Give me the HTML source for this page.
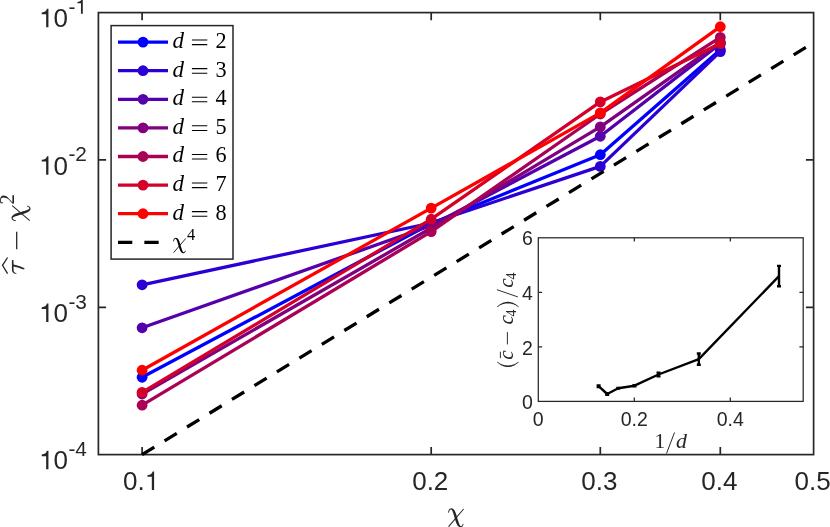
<!DOCTYPE html>
<html><head><meta charset="utf-8"><title>plot</title>
<style>
html,body{margin:0;padding:0;background:#fff;}
body{width:830px;height:527px;overflow:hidden;}
svg{display:block;will-change:transform;}
text{font-family:"Liberation Sans",sans-serif;fill:#262626;}
.s{font-family:"Liberation Serif",serif;}
.i{font-family:"Liberation Serif",serif;font-style:italic;}
.k{fill:#000;}
</style></head><body>
<svg width="830" height="527" viewBox="0 0 830 527">
<rect width="830" height="527" fill="#fff"/>
<g stroke="#262626" stroke-width="1.7" fill="none">
<rect x="98.4" y="12.6" width="715.2" height="442.0"/>
<path d="M142.1 454.6v-7.7M142.1 12.6v7.7"/>
<path d="M431.2 454.6v-7.7M431.2 12.6v7.7"/>
<path d="M600.3 454.6v-7.7M600.3 12.6v7.7"/>
<path d="M720.3 454.6v-7.7M720.3 12.6v7.7"/>
<path d="M98.4 159.9h7.7M813.6 159.9h-7.7"/>
<path d="M98.4 307.3h7.7M813.6 307.3h-7.7"/>
</g>
<g fill="none" stroke-linejoin="round" stroke-linecap="butt">
<polyline points="142.1,377.3 431.2,223.5 600.3,154.7 720.3,49.8" stroke="#0000ff" stroke-width="3.3"/>
<circle cx="142.1" cy="377.3" r="5.4" fill="#0000ff" stroke="none"/>
<circle cx="431.2" cy="223.5" r="5.4" fill="#0000ff" stroke="none"/>
<circle cx="600.3" cy="154.7" r="5.4" fill="#0000ff" stroke="none"/>
<circle cx="720.3" cy="49.8" r="5.4" fill="#0000ff" stroke="none"/>
<polyline points="142.1,284.8 431.2,223.0 600.3,166.4 720.3,51.6" stroke="#2a00d4" stroke-width="3.3"/>
<circle cx="142.1" cy="284.8" r="5.4" fill="#2a00d4" stroke="none"/>
<circle cx="431.2" cy="223.0" r="5.4" fill="#2a00d4" stroke="none"/>
<circle cx="600.3" cy="166.4" r="5.4" fill="#2a00d4" stroke="none"/>
<circle cx="720.3" cy="51.6" r="5.4" fill="#2a00d4" stroke="none"/>
<polyline points="142.1,327.8 431.2,225.5 600.3,136.3 720.3,43.6" stroke="#5500aa" stroke-width="3.3"/>
<circle cx="142.1" cy="327.8" r="5.4" fill="#5500aa" stroke="none"/>
<circle cx="431.2" cy="225.5" r="5.4" fill="#5500aa" stroke="none"/>
<circle cx="600.3" cy="136.3" r="5.4" fill="#5500aa" stroke="none"/>
<circle cx="720.3" cy="43.6" r="5.4" fill="#5500aa" stroke="none"/>
<polyline points="142.1,394.0 431.2,228.0 600.3,126.9 720.3,42.3" stroke="#800080" stroke-width="3.3"/>
<circle cx="142.1" cy="394.0" r="5.4" fill="#800080" stroke="none"/>
<circle cx="431.2" cy="228.0" r="5.4" fill="#800080" stroke="none"/>
<circle cx="600.3" cy="126.9" r="5.4" fill="#800080" stroke="none"/>
<circle cx="720.3" cy="42.3" r="5.4" fill="#800080" stroke="none"/>
<polyline points="142.1,405.2 431.2,231.6 600.3,114.0 720.3,37.4" stroke="#aa0055" stroke-width="3.3"/>
<circle cx="142.1" cy="405.2" r="5.4" fill="#aa0055" stroke="none"/>
<circle cx="431.2" cy="231.6" r="5.4" fill="#aa0055" stroke="none"/>
<circle cx="600.3" cy="114.0" r="5.4" fill="#aa0055" stroke="none"/>
<circle cx="720.3" cy="37.4" r="5.4" fill="#aa0055" stroke="none"/>
<polyline points="142.1,392.4 431.2,219.2 600.3,101.9 720.3,43.6" stroke="#d4002a" stroke-width="3.3"/>
<circle cx="142.1" cy="392.4" r="5.4" fill="#d4002a" stroke="none"/>
<circle cx="431.2" cy="219.2" r="5.4" fill="#d4002a" stroke="none"/>
<circle cx="600.3" cy="101.9" r="5.4" fill="#d4002a" stroke="none"/>
<circle cx="720.3" cy="43.6" r="5.4" fill="#d4002a" stroke="none"/>
<polyline points="142.1,370.2 431.2,208.1 600.3,112.9 720.3,26.7" stroke="#ff0000" stroke-width="3.3"/>
<circle cx="142.1" cy="370.2" r="5.4" fill="#ff0000" stroke="none"/>
<circle cx="431.2" cy="208.1" r="5.4" fill="#ff0000" stroke="none"/>
<circle cx="600.3" cy="112.9" r="5.4" fill="#ff0000" stroke="none"/>
<circle cx="720.3" cy="26.7" r="5.4" fill="#ff0000" stroke="none"/>
<line x1="142.1" y1="454.6" x2="813.4" y2="42.7" stroke="#000" stroke-width="3.3" stroke-dasharray="14.3 12.06"/>
</g>
<rect x="111.1" y="25.6" width="121.9" height="233.5" fill="#fff" stroke="#262626" stroke-width="1.5"/>
<line x1="118" y1="42.1" x2="168" y2="42.1" stroke="#0000ff" stroke-width="3.3"/><circle cx="143" cy="42.1" r="5.4" fill="#0000ff"/>
<text class="i k" x="172.50" y="47.90" font-size="23">d</text><path d="M191.9 40.00h15.4M191.9 44.60h15.4" stroke="#000" stroke-width="1.05"/><text class="s k" x="215.45" y="47.9" font-size="22.2">2</text>
<line x1="118" y1="70.7" x2="168" y2="70.7" stroke="#2a00d4" stroke-width="3.3"/><circle cx="143" cy="70.7" r="5.4" fill="#2a00d4"/>
<text class="i k" x="172.50" y="76.50" font-size="23">d</text><path d="M191.9 68.60h15.4M191.9 73.20h15.4" stroke="#000" stroke-width="1.05"/><text class="s k" x="215.45" y="76.5" font-size="22.2">3</text>
<line x1="118" y1="99.3" x2="168" y2="99.3" stroke="#5500aa" stroke-width="3.3"/><circle cx="143" cy="99.3" r="5.4" fill="#5500aa"/>
<text class="i k" x="172.50" y="105.10" font-size="23">d</text><path d="M191.9 97.20h15.4M191.9 101.80h15.4" stroke="#000" stroke-width="1.05"/><text class="s k" x="215.45" y="105.1" font-size="22.2">4</text>
<line x1="118" y1="127.9" x2="168" y2="127.9" stroke="#800080" stroke-width="3.3"/><circle cx="143" cy="127.9" r="5.4" fill="#800080"/>
<text class="i k" x="172.50" y="133.70" font-size="23">d</text><path d="M191.9 125.80h15.4M191.9 130.40h15.4" stroke="#000" stroke-width="1.05"/><text class="s k" x="215.45" y="133.7" font-size="22.2">5</text>
<line x1="118" y1="156.5" x2="168" y2="156.5" stroke="#aa0055" stroke-width="3.3"/><circle cx="143" cy="156.5" r="5.4" fill="#aa0055"/>
<text class="i k" x="172.50" y="162.30" font-size="23">d</text><path d="M191.9 154.40h15.4M191.9 159.00h15.4" stroke="#000" stroke-width="1.05"/><text class="s k" x="215.45" y="162.3" font-size="22.2">6</text>
<line x1="118" y1="185.1" x2="168" y2="185.1" stroke="#d4002a" stroke-width="3.3"/><circle cx="143" cy="185.1" r="5.4" fill="#d4002a"/>
<text class="i k" x="172.50" y="190.90" font-size="23">d</text><path d="M191.9 183.00h15.4M191.9 187.60h15.4" stroke="#000" stroke-width="1.05"/><text class="s k" x="215.45" y="190.9" font-size="22.2">7</text>
<line x1="118" y1="213.7" x2="168" y2="213.7" stroke="#ff0000" stroke-width="3.3"/><circle cx="143" cy="213.7" r="5.4" fill="#ff0000"/>
<text class="i k" x="172.50" y="219.50" font-size="23">d</text><path d="M191.9 211.60h15.4M191.9 216.20h15.4" stroke="#000" stroke-width="1.05"/><text class="s k" x="215.45" y="219.5" font-size="22.2">8</text>
<line x1="118" y1="242.3" x2="168" y2="242.3" stroke="#000" stroke-width="3.3" stroke-dasharray="14.3 12.06"/>
<path d="M173.16 241.18L173.20 241.03L173.25 240.81L173.31 240.55L173.38 240.25L173.47 239.94L173.56 239.63L173.68 239.33L173.83 239.07L173.99 238.85L174.17 238.64L174.37 238.45L174.59 238.27L174.82 238.12L175.06 237.98L175.31 237.88L175.58 237.82L175.86 237.80L176.13 237.83L176.40 237.89L176.67 237.99L176.93 238.11L177.18 238.26L177.41 238.43L177.64 238.62L177.85 238.82L178.05 239.04L178.24 239.28L178.43 239.54L178.61 239.83L178.79 240.16L178.97 240.52L179.15 240.93L179.34 241.41L179.53 241.95L179.72 242.53L179.91 243.14L180.10 243.76L180.28 244.37L180.46 244.97L180.64 245.53L180.81 246.08L180.99 246.66L181.16 247.23L181.33 247.78L181.50 248.32L181.66 248.82L181.80 249.28L181.94 249.68L182.08 250.03L182.20 250.35L182.31 250.63L182.42 250.88L182.52 251.10L182.62 251.30L182.72 251.48L182.82 251.64L182.92 251.79L183.01 251.91L183.10 252.02L183.20 252.11L183.29 252.19L183.39 252.25L183.49 252.30L183.58 252.33L183.67 252.33L183.77 252.32L183.88 252.28L184.01 252.22L184.13 252.13L184.26 252.03L184.38 251.92L184.49 251.81L184.58 251.69L184.69 251.52L184.79 251.32L184.89 251.11L184.97 250.89L185.05 250.70L185.12 250.52L185.18 250.40L185.79 250.65L185.74 250.77L185.68 250.93L185.61 251.14L185.52 251.37L185.43 251.61L185.32 251.85L185.21 252.07L185.08 252.27L184.94 252.45L184.79 252.60L184.63 252.75L184.46 252.89L184.28 253.01L184.08 253.12L183.87 253.21L183.64 253.26L183.41 253.28L183.18 253.28L182.94 253.26L182.70 253.20L182.45 253.12L182.21 253.00L181.97 252.85L181.74 252.68L181.52 252.48L181.31 252.27L181.11 252.04L180.91 251.78L180.71 251.49L180.51 251.18L180.32 250.82L180.13 250.43L179.93 249.99L179.74 249.50L179.55 248.97L179.36 248.42L179.17 247.85L178.99 247.28L178.81 246.72L178.63 246.16L178.45 245.58L178.27 244.97L178.09 244.34L177.92 243.72L177.76 243.13L177.60 242.56L177.45 242.06L177.31 241.63L177.18 241.25L177.07 240.92L176.96 240.64L176.86 240.40L176.77 240.19L176.68 240.00L176.59 239.81L176.48 239.64L176.37 239.47L176.26 239.30L176.14 239.16L176.03 239.03L175.92 238.92L175.82 238.84L175.72 238.78L175.64 238.75L175.53 238.75L175.40 238.78L175.24 238.85L175.08 238.95L174.91 239.07L174.75 239.21L174.61 239.37L174.49 239.51L174.38 239.68L174.28 239.90L174.18 240.17L174.10 240.45L174.02 240.72L173.95 240.98L173.89 241.21L173.84 241.38Z" fill="#000"/><line x1="173.60" y1="252.65" x2="185.81" y2="238.38" stroke="#000" stroke-width="0.84"/><text class="s k" x="187.08" y="239.80" font-size="16.4">4</text>
<path d="M46.15 27.30L48.43 27.30L48.43 8.87L46.95 8.87C46.51 10.66 45.21 12.22 41.73 12.53L41.73 14.22L46.15 14.22Z" fill="#262626"/><text x="53.56" y="27.3" font-size="26">0</text><text x="68.4" y="13.8" font-size="20.8">-</text><path d="M80.97 13.80L82.80 13.80L82.80 -0.95L81.61 -0.95C81.26 0.49 80.22 1.74 77.43 1.99L77.43 3.34L80.97 3.34Z" fill="#262626"/>
<path d="M46.15 174.63L48.43 174.63L48.43 156.20L46.95 156.20C46.51 157.99 45.21 159.55 41.73 159.87L41.73 161.56L46.15 161.56Z" fill="#262626"/><text x="53.56" y="174.6" font-size="26">0</text><text x="68.4" y="161.1" font-size="20.8">-2</text>
<path d="M46.15 321.97L48.43 321.97L48.43 303.53L46.95 303.53C46.51 305.33 45.21 306.89 41.73 307.20L41.73 308.89L46.15 308.89Z" fill="#262626"/><text x="53.56" y="322.0" font-size="26">0</text><text x="68.4" y="308.5" font-size="20.8">-3</text>
<path d="M46.15 469.30L48.43 469.30L48.43 450.87L46.95 450.87C46.51 452.66 45.21 454.22 41.73 454.53L41.73 456.22L46.15 456.22Z" fill="#262626"/><text x="53.56" y="469.3" font-size="26">0</text><text x="68.4" y="455.8" font-size="20.8">-4</text>
<text x="123.1" y="489.9" font-size="26">0.</text><path d="M151.83 489.90L154.11 489.90L154.11 471.47L152.63 471.47C152.19 473.26 150.89 474.82 147.41 475.13L147.41 476.82L151.83 476.82Z" fill="#262626"/>
<text x="412.2" y="489.9" font-size="26">0.2</text>
<text x="581.3" y="489.9" font-size="26">0.3</text>
<text x="701.3" y="489.9" font-size="26">0.4</text>
<text x="794.5" y="489.9" font-size="26">0.5</text>
<path d="M448.05 512.44L448.10 512.25L448.16 511.99L448.23 511.66L448.32 511.29L448.42 510.91L448.54 510.53L448.69 510.16L448.86 509.84L449.07 509.56L449.29 509.31L449.54 509.07L449.80 508.86L450.08 508.67L450.38 508.50L450.69 508.38L451.02 508.30L451.36 508.28L451.70 508.31L452.04 508.39L452.36 508.51L452.68 508.66L452.99 508.84L453.28 509.05L453.56 509.28L453.81 509.53L454.06 509.80L454.30 510.10L454.53 510.42L454.75 510.78L454.97 511.18L455.19 511.63L455.41 512.13L455.65 512.73L455.88 513.39L456.12 514.10L456.35 514.85L456.58 515.61L456.81 516.37L457.03 517.10L457.25 517.79L457.46 518.47L457.68 519.18L457.89 519.88L458.10 520.57L458.30 521.22L458.50 521.84L458.68 522.40L458.86 522.90L459.02 523.33L459.17 523.73L459.31 524.07L459.44 524.38L459.56 524.65L459.68 524.89L459.81 525.12L459.93 525.32L460.05 525.49L460.16 525.64L460.28 525.77L460.40 525.89L460.52 525.99L460.64 526.06L460.76 526.12L460.87 526.15L460.98 526.17L461.10 526.15L461.24 526.10L461.39 526.02L461.55 525.92L461.70 525.80L461.85 525.66L461.98 525.52L462.10 525.37L462.23 525.16L462.35 524.92L462.47 524.65L462.58 524.39L462.68 524.15L462.77 523.94L462.84 523.78L463.58 524.09L463.53 524.24L463.45 524.44L463.36 524.69L463.26 524.97L463.14 525.27L463.01 525.56L462.87 525.84L462.71 526.09L462.54 526.30L462.36 526.49L462.17 526.68L461.96 526.85L461.73 527.00L461.49 527.13L461.22 527.24L460.94 527.30L460.66 527.33L460.38 527.33L460.08 527.30L459.78 527.23L459.48 527.13L459.18 526.99L458.88 526.81L458.60 526.59L458.33 526.35L458.08 526.09L457.82 525.80L457.58 525.48L457.33 525.13L457.10 524.74L456.86 524.31L456.62 523.82L456.38 523.27L456.14 522.67L455.91 522.03L455.67 521.35L455.44 520.65L455.21 519.95L454.99 519.25L454.77 518.56L454.55 517.85L454.33 517.10L454.12 516.33L453.90 515.57L453.70 514.83L453.50 514.14L453.32 513.52L453.15 512.99L452.99 512.53L452.85 512.12L452.72 511.78L452.60 511.48L452.49 511.22L452.38 510.98L452.26 510.76L452.13 510.54L451.99 510.33L451.85 510.13L451.72 509.95L451.58 509.79L451.45 509.66L451.32 509.56L451.20 509.49L451.09 509.45L450.96 509.44L450.80 509.49L450.60 509.57L450.40 509.69L450.20 509.84L450.00 510.02L449.83 510.20L449.68 510.38L449.55 510.59L449.42 510.86L449.30 511.19L449.19 511.53L449.10 511.88L449.02 512.20L448.94 512.47L448.88 512.68Z" fill="#262626"/><line x1="448.58" y1="526.56" x2="463.61" y2="508.99" stroke="#262626" stroke-width="1.04"/>
<g transform="translate(24.5 274.0) rotate(-90)">
<path d="M0.12 -8.27L0.15 -8.43L0.19 -8.65L0.23 -8.92L0.28 -9.23L0.35 -9.56L0.44 -9.90L0.55 -10.23L0.70 -10.53L0.86 -10.80L1.03 -11.05L1.22 -11.29L1.44 -11.53L1.69 -11.76L1.97 -11.97L2.28 -12.15L2.64 -12.31L3.02 -12.42L3.42 -12.50L3.82 -12.54L4.23 -12.56L4.64 -12.57L5.05 -12.57L5.46 -12.57L5.87 -12.58L6.31 -12.59L6.76 -12.60L7.23 -12.60L7.70 -12.59L8.18 -12.59L8.67 -12.58L9.16 -12.58L9.66 -12.58L10.21 -12.58L10.81 -12.59L11.45 -12.59L12.08 -12.59L12.69 -12.60L13.23 -12.60L13.69 -12.61L14.04 -12.61L14.07 -11.07L13.73 -11.06L13.27 -11.04L12.72 -11.02L12.12 -11.00L11.48 -10.97L10.84 -10.95L10.23 -10.93L9.68 -10.92L9.17 -10.92L8.66 -10.91L8.17 -10.92L7.69 -10.92L7.22 -10.92L6.76 -10.93L6.33 -10.93L5.90 -10.92L5.46 -10.92L5.04 -10.92L4.64 -10.93L4.26 -10.93L3.91 -10.93L3.60 -10.91L3.33 -10.88L3.09 -10.84L2.88 -10.78L2.67 -10.71L2.47 -10.62L2.27 -10.52L2.09 -10.40L1.91 -10.26L1.74 -10.11L1.59 -9.95L1.47 -9.78L1.35 -9.56L1.24 -9.30L1.14 -9.01L1.06 -8.73L0.99 -8.47L0.92 -8.24L0.87 -8.07ZM9.58 -11.16L9.49 -10.80L9.37 -10.30L9.22 -9.71L9.05 -9.05L8.87 -8.36L8.68 -7.66L8.49 -6.98L8.30 -6.36L8.10 -5.77L7.89 -5.18L7.67 -4.60L7.45 -4.03L7.23 -3.48L7.02 -2.97L6.83 -2.51L6.66 -2.09L6.51 -1.71L6.37 -1.37L6.25 -1.05L6.13 -0.77L6.02 -0.52L5.93 -0.30L5.85 -0.11L5.79 0.04L4.50 -0.39L4.54 -0.55L4.58 -0.74L4.64 -0.98L4.71 -1.24L4.78 -1.54L4.87 -1.88L4.98 -2.25L5.10 -2.65L5.25 -3.09L5.42 -3.58L5.61 -4.10L5.80 -4.65L6.00 -5.21L6.19 -5.78L6.38 -6.34L6.54 -6.90L6.71 -7.48L6.87 -8.14L7.04 -8.82L7.20 -9.51L7.35 -10.16L7.49 -10.75L7.60 -11.25L7.69 -11.63Z" fill="#262626"/>
<path d="M0.40 -16.9 L8.70 -22.0 L16.50 -16.9" fill="none" stroke="#262626" stroke-width="1.3" stroke-linejoin="miter"/>
<path d="M24.80 -7.8 H42.20" stroke="#262626" stroke-width="1.3"/>
<path d="M52.85 -8.86L52.90 -9.05L52.96 -9.31L53.03 -9.64L53.12 -10.01L53.22 -10.39L53.34 -10.77L53.49 -11.14L53.66 -11.46L53.87 -11.74L54.09 -11.99L54.34 -12.23L54.60 -12.44L54.88 -12.63L55.18 -12.80L55.49 -12.92L55.82 -13.00L56.16 -13.02L56.50 -12.99L56.84 -12.91L57.16 -12.79L57.48 -12.64L57.79 -12.46L58.08 -12.25L58.36 -12.02L58.61 -11.77L58.86 -11.50L59.10 -11.20L59.33 -10.88L59.55 -10.52L59.77 -10.12L59.99 -9.67L60.21 -9.17L60.45 -8.57L60.68 -7.91L60.92 -7.20L61.15 -6.45L61.38 -5.69L61.61 -4.93L61.83 -4.20L62.05 -3.51L62.26 -2.83L62.48 -2.12L62.69 -1.42L62.90 -0.73L63.10 -0.08L63.30 0.54L63.48 1.10L63.66 1.60L63.82 2.03L63.97 2.43L64.11 2.77L64.24 3.08L64.36 3.35L64.48 3.59L64.61 3.82L64.73 4.02L64.85 4.19L64.96 4.34L65.08 4.47L65.20 4.59L65.32 4.69L65.44 4.76L65.56 4.82L65.67 4.85L65.78 4.87L65.90 4.85L66.04 4.80L66.19 4.72L66.35 4.62L66.50 4.50L66.65 4.36L66.78 4.22L66.90 4.07L67.03 3.86L67.15 3.62L67.27 3.35L67.38 3.09L67.48 2.85L67.57 2.64L67.64 2.48L68.38 2.79L68.33 2.94L68.25 3.14L68.16 3.39L68.06 3.67L67.94 3.97L67.81 4.26L67.67 4.54L67.51 4.79L67.34 5.00L67.16 5.19L66.97 5.38L66.76 5.55L66.53 5.70L66.29 5.83L66.02 5.94L65.74 6.00L65.46 6.03L65.18 6.03L64.88 6.00L64.58 5.93L64.28 5.83L63.98 5.69L63.68 5.51L63.40 5.29L63.13 5.05L62.88 4.79L62.62 4.50L62.38 4.18L62.13 3.83L61.90 3.44L61.66 3.01L61.42 2.52L61.18 1.97L60.94 1.37L60.71 0.73L60.47 0.05L60.24 -0.65L60.01 -1.35L59.79 -2.05L59.57 -2.74L59.35 -3.45L59.13 -4.20L58.92 -4.97L58.70 -5.73L58.50 -6.47L58.30 -7.16L58.12 -7.78L57.95 -8.31L57.79 -8.77L57.65 -9.18L57.52 -9.52L57.40 -9.82L57.29 -10.08L57.18 -10.32L57.06 -10.54L56.93 -10.76L56.79 -10.97L56.65 -11.17L56.52 -11.35L56.38 -11.51L56.25 -11.64L56.12 -11.74L56.00 -11.81L55.89 -11.85L55.76 -11.86L55.60 -11.81L55.40 -11.73L55.20 -11.61L55.00 -11.46L54.80 -11.28L54.63 -11.10L54.48 -10.92L54.35 -10.71L54.22 -10.44L54.10 -10.11L53.99 -9.77L53.90 -9.42L53.82 -9.10L53.74 -8.83L53.68 -8.62Z" fill="#262626"/><line x1="53.38" y1="5.26" x2="68.41" y2="-12.31" stroke="#262626" stroke-width="1.04"/><text class="s" x="69.49" y="-10.40" font-size="20.6">2</text>
</g>
<g stroke="#262626" stroke-width="1.25" fill="none">
<rect x="538.3" y="237.8" width="264.9" height="163.6" fill="#fff"/>
<path d="M634.3 401.4v-3.8M634.3 237.8v3.8"/>
<path d="M730.3 401.4v-3.8M730.3 237.8v3.8"/>
<path d="M538.3 346.9h3.8M803.2 346.9h-3.8"/>
<path d="M538.3 292.3h3.8M803.2 292.3h-3.8"/>
</g>
<g stroke="#000" stroke-width="2.4" fill="none" stroke-linejoin="round">
<polyline points="598.6,386.2 607.2,394.0 618.2,388.2 634.5,385.7 658.5,374.5 698.8,359.1 779.0,276.1"/>
<path d="M598.6 385.4V387.0M596.6 385.4h4M596.6 387.0h4"/>
<path d="M607.2 393.3V394.7M605.2 393.3h4M605.2 394.7h4"/>
<path d="M618.2 387.9V388.5M616.2 387.9h4M616.2 388.5h4"/>
<path d="M634.5 385.2V386.2M632.5 385.2h4M632.5 386.2h4"/>
<path d="M658.5 372.6V376.4M656.5 372.6h4M656.5 376.4h4"/>
<path d="M698.8 353.5V364.7M696.8 353.5h4M696.8 364.7h4"/>
<path d="M779.0 265.9V286.3M777.0 265.9h4M777.0 286.3h4"/>
</g>
<text x="538.3" y="425.5" font-size="19.5" text-anchor="middle">0</text>
<text x="634.3" y="425.5" font-size="19.5" text-anchor="middle">0.2</text>
<text x="730.3" y="425.5" font-size="19.5" text-anchor="middle">0.4</text>
<text x="532.9" y="409.0" font-size="19.5" text-anchor="end">0</text>
<text x="532.9" y="354.5" font-size="19.5" text-anchor="end">2</text>
<text x="532.9" y="299.9" font-size="19.5" text-anchor="end">4</text>
<text x="532.9" y="245.4" font-size="19.5" text-anchor="end">6</text>
<text class="s" x="654.42" y="448.40" font-size="21.4">1</text><path d="M666.5 453.5L674.5 432.5" stroke="#262626" stroke-width="1"/><text class="i" x="675.94" y="448.40" font-size="21.9">d</text>
<g transform="translate(513.3 367.1) rotate(-90)">
<path d="M5.44 -15.98L5.27 -15.73L5.03 -15.41L4.76 -15.03L4.46 -14.61L4.15 -14.16L3.84 -13.69L3.57 -13.23L3.34 -12.79L3.14 -12.34L2.94 -11.87L2.76 -11.38L2.59 -10.88L2.43 -10.38L2.29 -9.88L2.16 -9.40L2.05 -8.93L1.96 -8.48L1.88 -8.03L1.82 -7.59L1.77 -7.16L1.73 -6.73L1.70 -6.29L1.69 -5.86L1.68 -5.42L1.69 -4.99L1.70 -4.56L1.73 -4.12L1.77 -3.69L1.82 -3.26L1.88 -2.82L1.96 -2.37L2.05 -1.92L2.16 -1.45L2.29 -0.97L2.43 -0.47L2.59 0.03L2.76 0.53L2.94 1.02L3.14 1.49L3.34 1.94L3.57 2.38L3.84 2.84L4.15 3.31L4.46 3.76L4.76 4.18L5.03 4.56L5.27 4.88L5.44 5.13L4.96 5.50L4.77 5.27L4.51 4.98L4.20 4.62L3.86 4.22L3.50 3.78L3.14 3.33L2.80 2.86L2.50 2.40L2.23 1.94L1.97 1.47L1.71 0.98L1.47 0.47L1.24 -0.03L1.03 -0.54L0.83 -1.05L0.67 -1.55L0.52 -2.04L0.40 -2.53L0.30 -3.01L0.22 -3.50L0.16 -3.98L0.11 -4.46L0.09 -4.94L0.08 -5.42L0.09 -5.91L0.11 -6.39L0.16 -6.87L0.22 -7.35L0.30 -7.84L0.40 -8.32L0.52 -8.81L0.67 -9.30L0.83 -9.80L1.03 -10.31L1.24 -10.82L1.47 -11.32L1.71 -11.83L1.97 -12.32L2.23 -12.79L2.50 -13.25L2.80 -13.71L3.14 -14.18L3.50 -14.63L3.86 -15.07L4.20 -15.47L4.51 -15.83L4.77 -16.12L4.96 -16.35Z" fill="#262626"/><text class="i" x="7.34" y="0.00" font-size="21.5">c</text><path d="M8.9 -12.9H15.4M22.7 -5.9H35.0M70.2 4.5L77.4 -16.4" stroke="#262626" stroke-width="0.95" fill="none"/><text class="i" x="42.64" y="0.00" font-size="21.5">c</text><text class="s" x="50.73" y="2.50" font-size="13.8">4</text><path d="M60.40 -16.35L60.59 -16.12L60.85 -15.83L61.16 -15.47L61.50 -15.07L61.86 -14.63L62.22 -14.18L62.55 -13.71L62.86 -13.25L63.13 -12.79L63.39 -12.32L63.65 -11.83L63.89 -11.32L64.12 -10.82L64.33 -10.31L64.53 -9.80L64.69 -9.30L64.83 -8.81L64.96 -8.32L65.06 -7.84L65.14 -7.35L65.20 -6.87L65.25 -6.39L65.27 -5.91L65.28 -5.42L65.27 -4.94L65.25 -4.46L65.20 -3.98L65.14 -3.50L65.06 -3.01L64.96 -2.53L64.83 -2.04L64.69 -1.55L64.53 -1.05L64.33 -0.54L64.12 -0.03L63.89 0.47L63.65 0.98L63.39 1.47L63.13 1.94L62.86 2.40L62.55 2.86L62.22 3.33L61.86 3.78L61.50 4.22L61.16 4.62L60.85 4.98L60.59 5.27L60.40 5.50L59.92 5.13L60.09 4.88L60.32 4.56L60.60 4.18L60.90 3.76L61.21 3.31L61.52 2.84L61.79 2.38L62.02 1.94L62.22 1.49L62.42 1.02L62.60 0.53L62.77 0.03L62.93 -0.47L63.07 -0.97L63.20 -1.45L63.31 -1.92L63.40 -2.37L63.48 -2.82L63.54 -3.26L63.59 -3.69L63.63 -4.12L63.66 -4.56L63.67 -4.99L63.67 -5.43L63.67 -5.86L63.66 -6.29L63.63 -6.73L63.59 -7.16L63.54 -7.59L63.48 -8.03L63.40 -8.48L63.31 -8.93L63.20 -9.40L63.07 -9.88L62.93 -10.38L62.77 -10.88L62.60 -11.38L62.42 -11.87L62.22 -12.34L62.02 -12.79L61.79 -13.23L61.52 -13.69L61.21 -14.16L60.90 -14.61L60.60 -15.03L60.32 -15.41L60.09 -15.73L59.92 -15.98Z" fill="#262626"/><text class="i" x="79.44" y="0.00" font-size="21.5">c</text><text class="s" x="87.53" y="2.50" font-size="13.8">4</text>
</g>
</svg>
</body></html>
